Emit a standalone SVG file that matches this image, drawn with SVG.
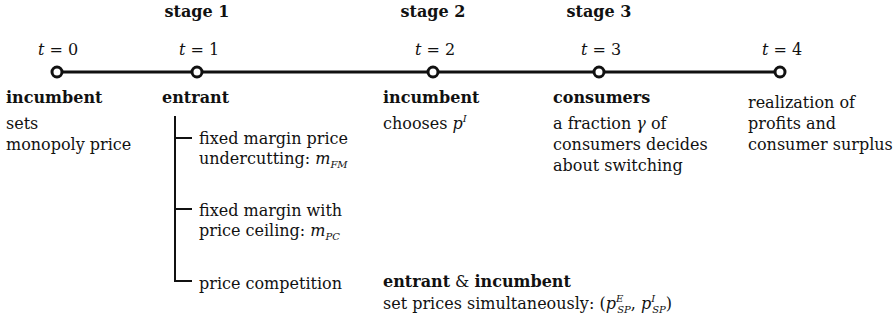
<svg xmlns="http://www.w3.org/2000/svg" width="896" height="322" viewBox="0 0 896 322">
<style>
text{font-family:"DejaVu Serif","Liberation Serif",serif;font-size:16px;fill:#111}
.b{font-weight:bold}
.m{font-style:italic}
.c{text-anchor:middle}
.s{font-size:10px;font-style:italic}
.tl{stroke:#111;stroke-width:3;fill:none}
.br{stroke:#111;stroke-width:2;fill:none}
.pt{fill:#fff;stroke:#111;stroke-width:3}
</style>
<rect width="896" height="322" fill="#fff"/>
<g id="connectors">
<line class="tl" x1="57" y1="72" x2="780" y2="72"/>
<path class="br" d="M175 116 V281 H192 M175 138 H192 M175 209 H192"/>
</g>
<g id="stages">
<text class="b c" x="197" y="17">stage 1</text>
<text class="b c" x="433" y="17">stage 2</text>
<text class="b c" x="599" y="17">stage 3</text>
</g>
<g id="t0">
<circle class="pt" cx="57" cy="72" r="5"/>
<text class="c" x="58" y="55"><tspan class="m">t</tspan> = 0</text>
<text class="b" x="6" y="103">incumbent</text>
<text x="6" y="129">sets</text>
<text x="6" y="150">monopoly price</text>
</g>
<g id="t1">
<circle class="pt" cx="197" cy="72" r="5"/>
<text class="c" x="199" y="55"><tspan class="m">t</tspan> = 1</text>
<text class="b" x="162" y="103">entrant</text>
</g>
<g id="opt-fm">
<text x="199" y="144">fixed margin price</text>
<text x="199" y="164">undercutting: <tspan class="m">m</tspan><tspan class="s" dy="4">FM</tspan></text>
</g>
<g id="opt-pc">
<text x="199" y="216">fixed margin with</text>
<text x="199" y="236">price ceiling: <tspan class="m">m</tspan><tspan class="s" dy="4">PC</tspan></text>
</g>
<g id="opt-sp">
<text x="199" y="289">price competition</text>
</g>
<g id="t2">
<circle class="pt" cx="433" cy="72" r="5"/>
<text class="c" x="435" y="55"><tspan class="m">t</tspan> = 2</text>
<text class="b" x="383" y="103">incumbent</text>
<text x="383" y="129">chooses <tspan class="m">p</tspan><tspan class="s" dy="-7">I</tspan></text>
</g>
<g id="t3">
<circle class="pt" cx="599" cy="72" r="5"/>
<text class="c" x="601" y="55"><tspan class="m">t</tspan> = 3</text>
<text class="b" x="553" y="103">consumers</text>
<text x="553" y="129">a fraction <tspan class="m">γ</tspan> of</text>
<text x="553" y="150">consumers decides</text>
<text x="553" y="171">about switching</text>
</g>
<g id="t4">
<circle class="pt" cx="780" cy="72" r="5"/>
<text class="c" x="782" y="55"><tspan class="m">t</tspan> = 4</text>
<text x="748" y="108">realization of</text>
<text x="748" y="129">profits and</text>
<text x="748" y="150">consumer surplus</text>
</g>
<g id="sp">
<text x="383" y="287"><tspan class="b">entrant</tspan> &amp; <tspan class="b">incumbent</tspan></text>
<text x="383" y="309">set prices simultaneously: (<tspan class="m">p</tspan><tspan class="s" dy="-7">E</tspan><tspan class="s" dx="-6" dy="11">SP</tspan><tspan dy="-4">, </tspan><tspan class="m">p</tspan><tspan class="s" dy="-7">I</tspan><tspan class="s" dx="-3" dy="11">SP</tspan><tspan dy="-4">)</tspan></text>
</g>
</svg>
